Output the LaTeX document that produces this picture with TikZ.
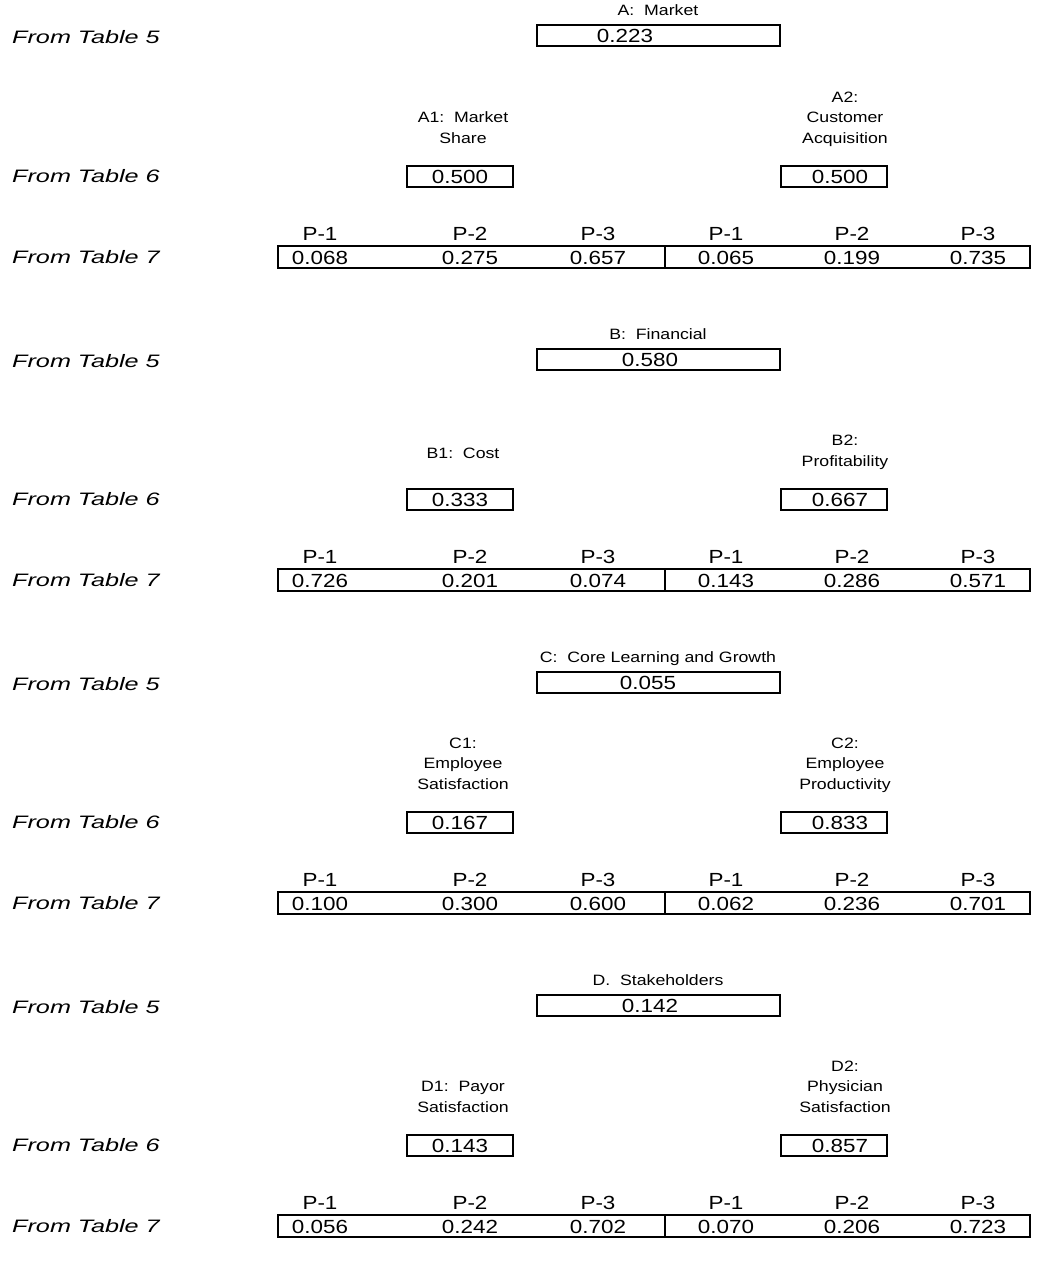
\documentclass[tikz,border=0pt]{standalone}
\usepackage{fontspec}
\setmainfont[FakeStretch=1.18]{Liberation Sans}
\newfontfamily\sidefont[FakeStretch=1.4]{Liberation Sans}

% One group: the heading, its weight, and the two sub-criteria with weights
\newcommand\grouptop[9]{%
  \begin{scope}[yshift=-#2pt]
    \node[side] (#1tfive) at (12,44) {From Table 5};
    \node[head] (#1head) at (658,16) {#3};
    \node[bigbox] (#1box) at (658.5,36) {};
    \node[val] (#1val) at (#5,43) {#4};
    \node[sub] (#1lab) at (463,143) {#6};
    \node[smallbox] (#1lbox) at (459.5,176) {};
    \node[val] (#1lval) at (460,183) {#7};
    \node[sub] (#1rab) at (845,143) {#8};
    \node[smallbox] (#1rbox) at (834,176) {};
    \node[val] (#1rval) at (840,183) {#9};
    \node[side] (#1tsix) at (12,182) {From Table 6};
  \end{scope}}

% One group: the row of project weights under both sub-criteria
\newcommand\grouprow[8]{%
  \begin{scope}[yshift=-#2pt]
    \node[rowbox, minimum width=387] (#1rowl) at (471.5,257) {};
    \node[rowbox, minimum width=365] (#1rowr) at (847.5,257) {};
    \node[plab] (#1pa) at (320,240) {P-1};
    \node[plab] (#1pb) at (470,240) {P-2};
    \node[plab] (#1pc) at (598,240) {P-3};
    \node[plab] (#1pd) at (726,240) {P-1};
    \node[plab] (#1pe) at (852,240) {P-2};
    \node[plab] (#1pf) at (978,240) {P-3};
    \node[val] (#1va) at (320,264) {#3};
    \node[val] (#1vb) at (470,264) {#4};
    \node[val] (#1vc) at (598,264) {#5};
    \node[val] (#1vd) at (726,264) {#6};
    \node[val] (#1ve) at (852,264) {#7};
    \node[val] (#1vf) at (978,264) {#8};
    \node[side] (#1tseven) at (12,263) {From Table 7};
  \end{scope}}

\begin{document}
\begin{tikzpicture}[x=1pt,y=-1pt,
  frame/.style={draw, line width=2pt, inner sep=0pt, minimum height=21pt},
  bigbox/.style={frame, minimum width=243pt},
  smallbox/.style={frame, minimum width=106pt},
  rowbox/.style={frame, minimum height=22pt},
  val/.style={font=\fontsize{19}{22}\selectfont, anchor=base, inner sep=0pt},
  plab/.style={font=\fontsize{19}{22}\selectfont, anchor=base, inner sep=0pt},
  head/.style={font=\fontsize{15}{18}\selectfont, anchor=base, inner sep=0pt},
  sub/.style={font=\fontsize{15}{20.5}\selectfont, align=center, anchor=base, inner sep=0pt},
  side/.style={font=\sidefont\itshape\fontsize{18}{22}\selectfont, anchor=base west, inner sep=0pt}]

\useasboundingbox (0,0) rectangle (1036,1263);

\grouptop{a}{0}{A:~~Market}{0.223}{625}{A1:~~Market\\Share}{0.500}{A2:\\Customer\\Acquisition}{0.500}
\grouprow{a}{0}{0.068}{0.275}{0.657}{0.065}{0.199}{0.735}

\grouptop{b}{323}{B:~~Financial}{0.580}{650}{\raisebox{8pt}{B1:~~Cost}}{0.333}{B2:\\Profitability}{0.667}
\grouprow{b}{323}{0.726}{0.201}{0.074}{0.143}{0.286}{0.571}

\grouptop{c}{646}{C:~~Core Learning and Growth}{0.055}{648}{C1:\\Employee\\Satisfaction}{0.167}{C2:\\Employee\\Productivity}{0.833}
\grouprow{c}{646}{0.100}{0.300}{0.600}{0.062}{0.236}{0.701}

\grouptop{d}{969}{D.~~Stakeholders}{0.142}{650}{D1:~~Payor\\Satisfaction}{0.143}{D2:\\Physician\\Satisfaction}{0.857}
\grouprow{d}{969}{0.056}{0.242}{0.702}{0.070}{0.206}{0.723}

\end{tikzpicture}
\end{document}
